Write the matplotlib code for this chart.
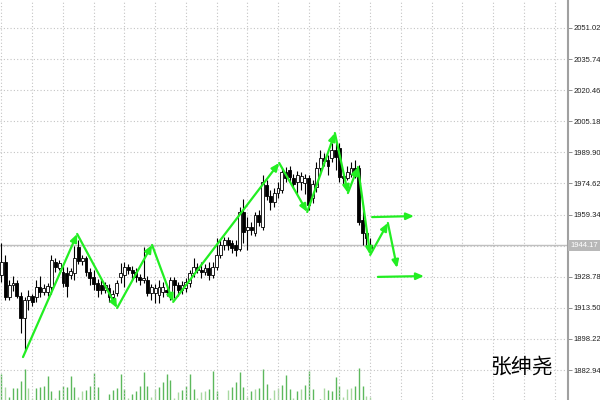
import numpy as np
import matplotlib.pyplot as plt
import matplotlib.transforms as mtransforms

# OHLC of the candles (left to right)
opens = [1929.6, 1936.0, 1918.8, 1924.7, 1925.7, 1919.3, 1908.5, 1917.3, 1919.3, 1918.8,
         1923.7, 1921.3, 1921.3, 1923.7, 1936.0, 1933.1, 1931.1, 1930.6, 1929.6, 1930.6,
         1943.4, 1936.5, 1938.0, 1931.1, 1928.7, 1925.7, 1924.7, 1922.3, 1923.2, 1918.8,
         1920.8, 1928.7, 1929.6, 1933.6, 1932.1, 1931.1, 1928.7, 1927.2, 1927.2, 1920.8,
         1920.8, 1919.8, 1921.3, 1922.3, 1920.8, 1927.2, 1924.7, 1922.3, 1923.2, 1925.7,
         1930.6, 1933.6, 1932.1, 1931.1, 1933.1, 1929.6, 1933.6, 1939.5, 1944.4, 1946.8,
         1945.4, 1944.4, 1942.4, 1960.6, 1951.8, 1953.2, 1950.3, 1959.1, 1953.2, 1973.9,
         1968.5, 1965.5, 1969.9, 1971.4, 1980.3, 1981.2, 1977.3, 1975.3, 1975.3, 1974.8,
         1977.3, 1967.5, 1972.9, 1982.2, 1987.1, 1986.2, 1987.1, 1991.1, 1992.1, 1978.3,
         1977.3, 1979.3, 1982.2, 1982.2, 1956.7, 1950.3, 1942.9]
highs = [1945.4, 1939.5, 1927.2, 1929.1, 1927.2, 1921.3, 1918.8, 1922.3, 1920.3, 1927.2,
         1929.1, 1925.2, 1925.7, 1939.5, 1938.0, 1937.0, 1934.0, 1933.6, 1933.1, 1943.9,
         1946.8, 1939.5, 1939.0, 1933.1, 1932.1, 1927.7, 1927.2, 1926.2, 1925.2, 1922.3,
         1927.2, 1935.5, 1936.0, 1935.0, 1934.0, 1933.1, 1930.1, 1943.4, 1929.1, 1925.2,
         1925.2, 1927.2, 1926.2, 1924.2, 1928.7, 1928.7, 1926.2, 1926.7, 1928.2, 1932.1,
         1938.0, 1935.5, 1936.0, 1935.0, 1936.0, 1936.0, 1947.8, 1946.8, 1948.3, 1948.3,
         1946.8, 1946.8, 1963.0, 1966.9, 1958.1, 1955.7, 1960.6, 1961.6, 1978.8, 1976.3,
         1971.4, 1972.4, 1975.3, 1982.2, 1982.7, 1983.2, 1979.3, 1980.7, 1980.3, 1979.3,
         1978.8, 1976.3, 1985.2, 1991.1, 1989.6, 1988.6, 1994.5, 1996.0, 1994.5, 1980.3,
         1983.2, 1985.2, 1986.2, 1983.7, 1964.0, 1952.7, 1947.8]
lows = [1926.2, 1917.3, 1917.3, 1921.8, 1918.3, 1901.1, 1891.8, 1912.4, 1914.4, 1916.4,
        1918.8, 1919.8, 1919.3, 1920.3, 1931.1, 1932.1, 1923.7, 1918.8, 1927.7, 1927.2,
        1935.0, 1934.5, 1929.1, 1924.7, 1922.3, 1918.8, 1920.3, 1920.8, 1916.4, 1916.9,
        1919.3, 1925.7, 1923.7, 1930.1, 1927.2, 1926.2, 1924.7, 1925.7, 1919.3, 1917.3,
        1915.9, 1915.9, 1918.8, 1919.3, 1917.3, 1918.3, 1919.3, 1920.3, 1921.3, 1923.7,
        1928.7, 1930.6, 1928.2, 1929.6, 1927.2, 1928.2, 1932.1, 1938.0, 1941.9, 1941.9,
        1940.4, 1939.0, 1941.4, 1945.4, 1941.9, 1949.3, 1948.8, 1953.7, 1951.8, 1966.5,
        1961.6, 1963.0, 1967.5, 1969.9, 1975.3, 1975.3, 1972.4, 1969.4, 1971.4, 1969.4,
        1961.6, 1965.0, 1970.4, 1978.8, 1983.2, 1978.8, 1985.2, 1981.2, 1975.3, 1973.9,
        1976.3, 1977.8, 1977.3, 1954.1, 1944.4, 1943.9, 1941.9]
closes = [1936.0, 1918.8, 1924.7, 1925.7, 1919.3, 1908.5, 1917.3, 1919.3, 1916.4, 1923.7,
          1921.3, 1923.2, 1924.2, 1937.0, 1933.6, 1935.5, 1925.7, 1924.2, 1931.6, 1938.0,
          1936.5, 1938.0, 1931.1, 1928.2, 1925.2, 1922.3, 1922.3, 1924.7, 1918.8, 1920.3,
          1925.7, 1930.6, 1933.6, 1932.1, 1930.6, 1928.7, 1927.2, 1928.2, 1920.8, 1923.7,
          1923.2, 1923.7, 1923.7, 1921.3, 1927.2, 1924.7, 1922.3, 1924.7, 1926.2, 1930.6,
          1933.6, 1932.1, 1931.1, 1933.1, 1929.6, 1933.6, 1939.5, 1944.4, 1946.8, 1944.4,
          1942.9, 1941.9, 1960.6, 1950.8, 1953.2, 1951.8, 1959.1, 1955.7, 1975.3, 1968.5,
          1965.5, 1969.9, 1972.4, 1980.3, 1977.3, 1977.8, 1974.4, 1978.8, 1978.3, 1977.3,
          1964.0, 1974.4, 1982.2, 1987.1, 1985.7, 1983.2, 1991.1, 1987.6, 1977.8, 1977.3,
          1980.3, 1982.2, 1980.7, 1955.7, 1950.3, 1947.8, 1944.17]

volumes = [2600, 1300, 300, 1200, 1200, 1900, 3100, 1200, 200, 1200,
           1300, 1400, 2400, 900, 200, 1000, 1400, 1300, 2400, 1300,
           300, 900, 1000, 1400, 2700, 1300, 0, 0, 600, 1000,
           1200, 2600, 1100, 200, 600, 900, 1400, 2800, 1400, 300,
           1100, 1300, 1800, 2600, 2000, 200, 800, 1000, 1400, 2600,
           1100, 200, 800, 900, 1100, 2900, 900, 0, 0, 1000,
           1300, 1800, 2800, 1300, 300, 900, 1100, 1200, 3100, 1600,
           200, 1000, 1200, 1500, 2500, 1100, 200, 900, 1100, 1500,
           2900, 1100, 0, 100, 1200, 1000, 900, 2300, 1400, 300,
           1100, 1200, 1400, 3200, 1400, 400, 300]
faint_bars = [1, 7, 8, 14, 20, 21, 33, 39, 40, 45, 46, 51, 52, 53, 59, 64, 66,
              70, 71, 72, 76, 78, 84, 89, 90, 91, 95, 96]

price_ticks = [2051.02, 2035.74, 2020.46, 2005.18, 1989.90, 1974.62, 1959.34,
               1928.78, 1913.50, 1898.22, 1882.94]
hidden_grid = 1944.06
last_price = 1944.17

# hand drawn zigzag (bar position, price)
zigzag_bar = [5.6, 19.7, 30.1, 39.2, 44.7, 72.3, 79.6, 86.8, 90.2, 92.8, 96.0, 100.6, 103.0]
zigzag_price = [1889.3, 1949.8, 1913.4, 1944.4, 1916.4, 1984.7, 1960.6, 1999.4,
                1969.9, 1982.7, 1939.5, 1955.2, 1933.1]
target_bar = [(96.5, 107.4), (98.0, 110.0)]
target_price = [(1958.1, 1958.6), (1928.7, 1929.1)]

green = '#22ee22'

plt.rcParams['font.family'] = ['Liberation Sans', 'DejaVu Sans']

fig = plt.figure(figsize=(6, 4), dpi=100, facecolor='white')
ax = fig.add_axes([0, 0, 568 / 600, 1])
vax = ax.twinx()
ax.set_zorder(2)
vax.set_zorder(1)
ax.patch.set_visible(False)

ax.set_xlim(-0.39, 147.5)
ax.set_ylim(1868.2, 2064.78)

# grid
for p in price_ticks + [hidden_grid]:
    ax.axhline(p, color='#c4c4c4', lw=0.8, ls=(0, (1, 2)), zorder=0)
for xg in np.arange(0, 148, 8):
    ax.axvline(xg, color='#c4c4c4', lw=0.8, ls=(0, (1, 2)), zorder=0)
ax.axhline(last_price, color='#c0c0c0', lw=1.0, zorder=0.5)

# candles
x = np.arange(len(closes))
ax.vlines(x, lows, highs, color='black', lw=0.8, zorder=2)
for i in range(len(closes)):
    o, c = opens[i], closes[i]
    h = max(abs(c - o), 0.4)
    fc = 'white' if c >= o else 'black'
    ax.bar(i, h, bottom=min(o, c), width=0.75, color=fc, edgecolor='black',
           lw=0.6, zorder=3)

# volumes
vcol = ['#a8d8a0' if i in faint_bars else '#5cb85c' for i in range(len(volumes))]
vax.vlines(x, 0, volumes, colors=vcol, lw=1.0)
vax.set_ylim(0, 40000)
vax.axis('off')

# zigzag arrows
arrow = dict(arrowstyle='-|>,head_length=0.5,head_width=0.22', color=green, lw=1.6,
             shrinkA=0, shrinkB=0, mutation_scale=9)
for k in range(len(zigzag_bar) - 1):
    ax.annotate('', xy=(zigzag_bar[k + 1], zigzag_price[k + 1]),
                xytext=(zigzag_bar[k], zigzag_price[k]), arrowprops=arrow, zorder=5)
for bx, py in zip(target_bar, target_price):
    ax.annotate('', xy=(bx[1], py[1]), xytext=(bx[0], py[0]), arrowprops=arrow, zorder=5)

# axis
for s in ['left', 'top', 'bottom']:
    ax.spines[s].set_visible(False)
ax.spines['right'].set_color('#a0a0a0')
ax.spines['right'].set_linewidth(1.5)
ax.set_xticks([])
ax.yaxis.tick_right()
ax.set_yticks(price_ticks)
ax.set_yticklabels([f'{p:.2f}' for p in price_ticks])
ax.tick_params(axis='y', length=3, width=0.6, color='#808080', labelsize=5.5,
               pad=1, labelcolor='#202020')

trans = mtransforms.blended_transform_factory(ax.transAxes, ax.transData)
ax.text(1.004, last_price, f'{last_price:.2f}', transform=trans, fontsize=5.5,
        color='white', va='center', ha='left', clip_on=False,
        bbox=dict(boxstyle='square,pad=0.3', fc='#b8b8b8', ec='none'))

fig.text(521 / 600, 1 - 367 / 400, '张绅尧', fontsize=15,
         family=['Noto Sans CJK SC', 'DejaVu Sans'], ha='center', va='center', color='black')

fig.savefig('out.png', dpi=100)
